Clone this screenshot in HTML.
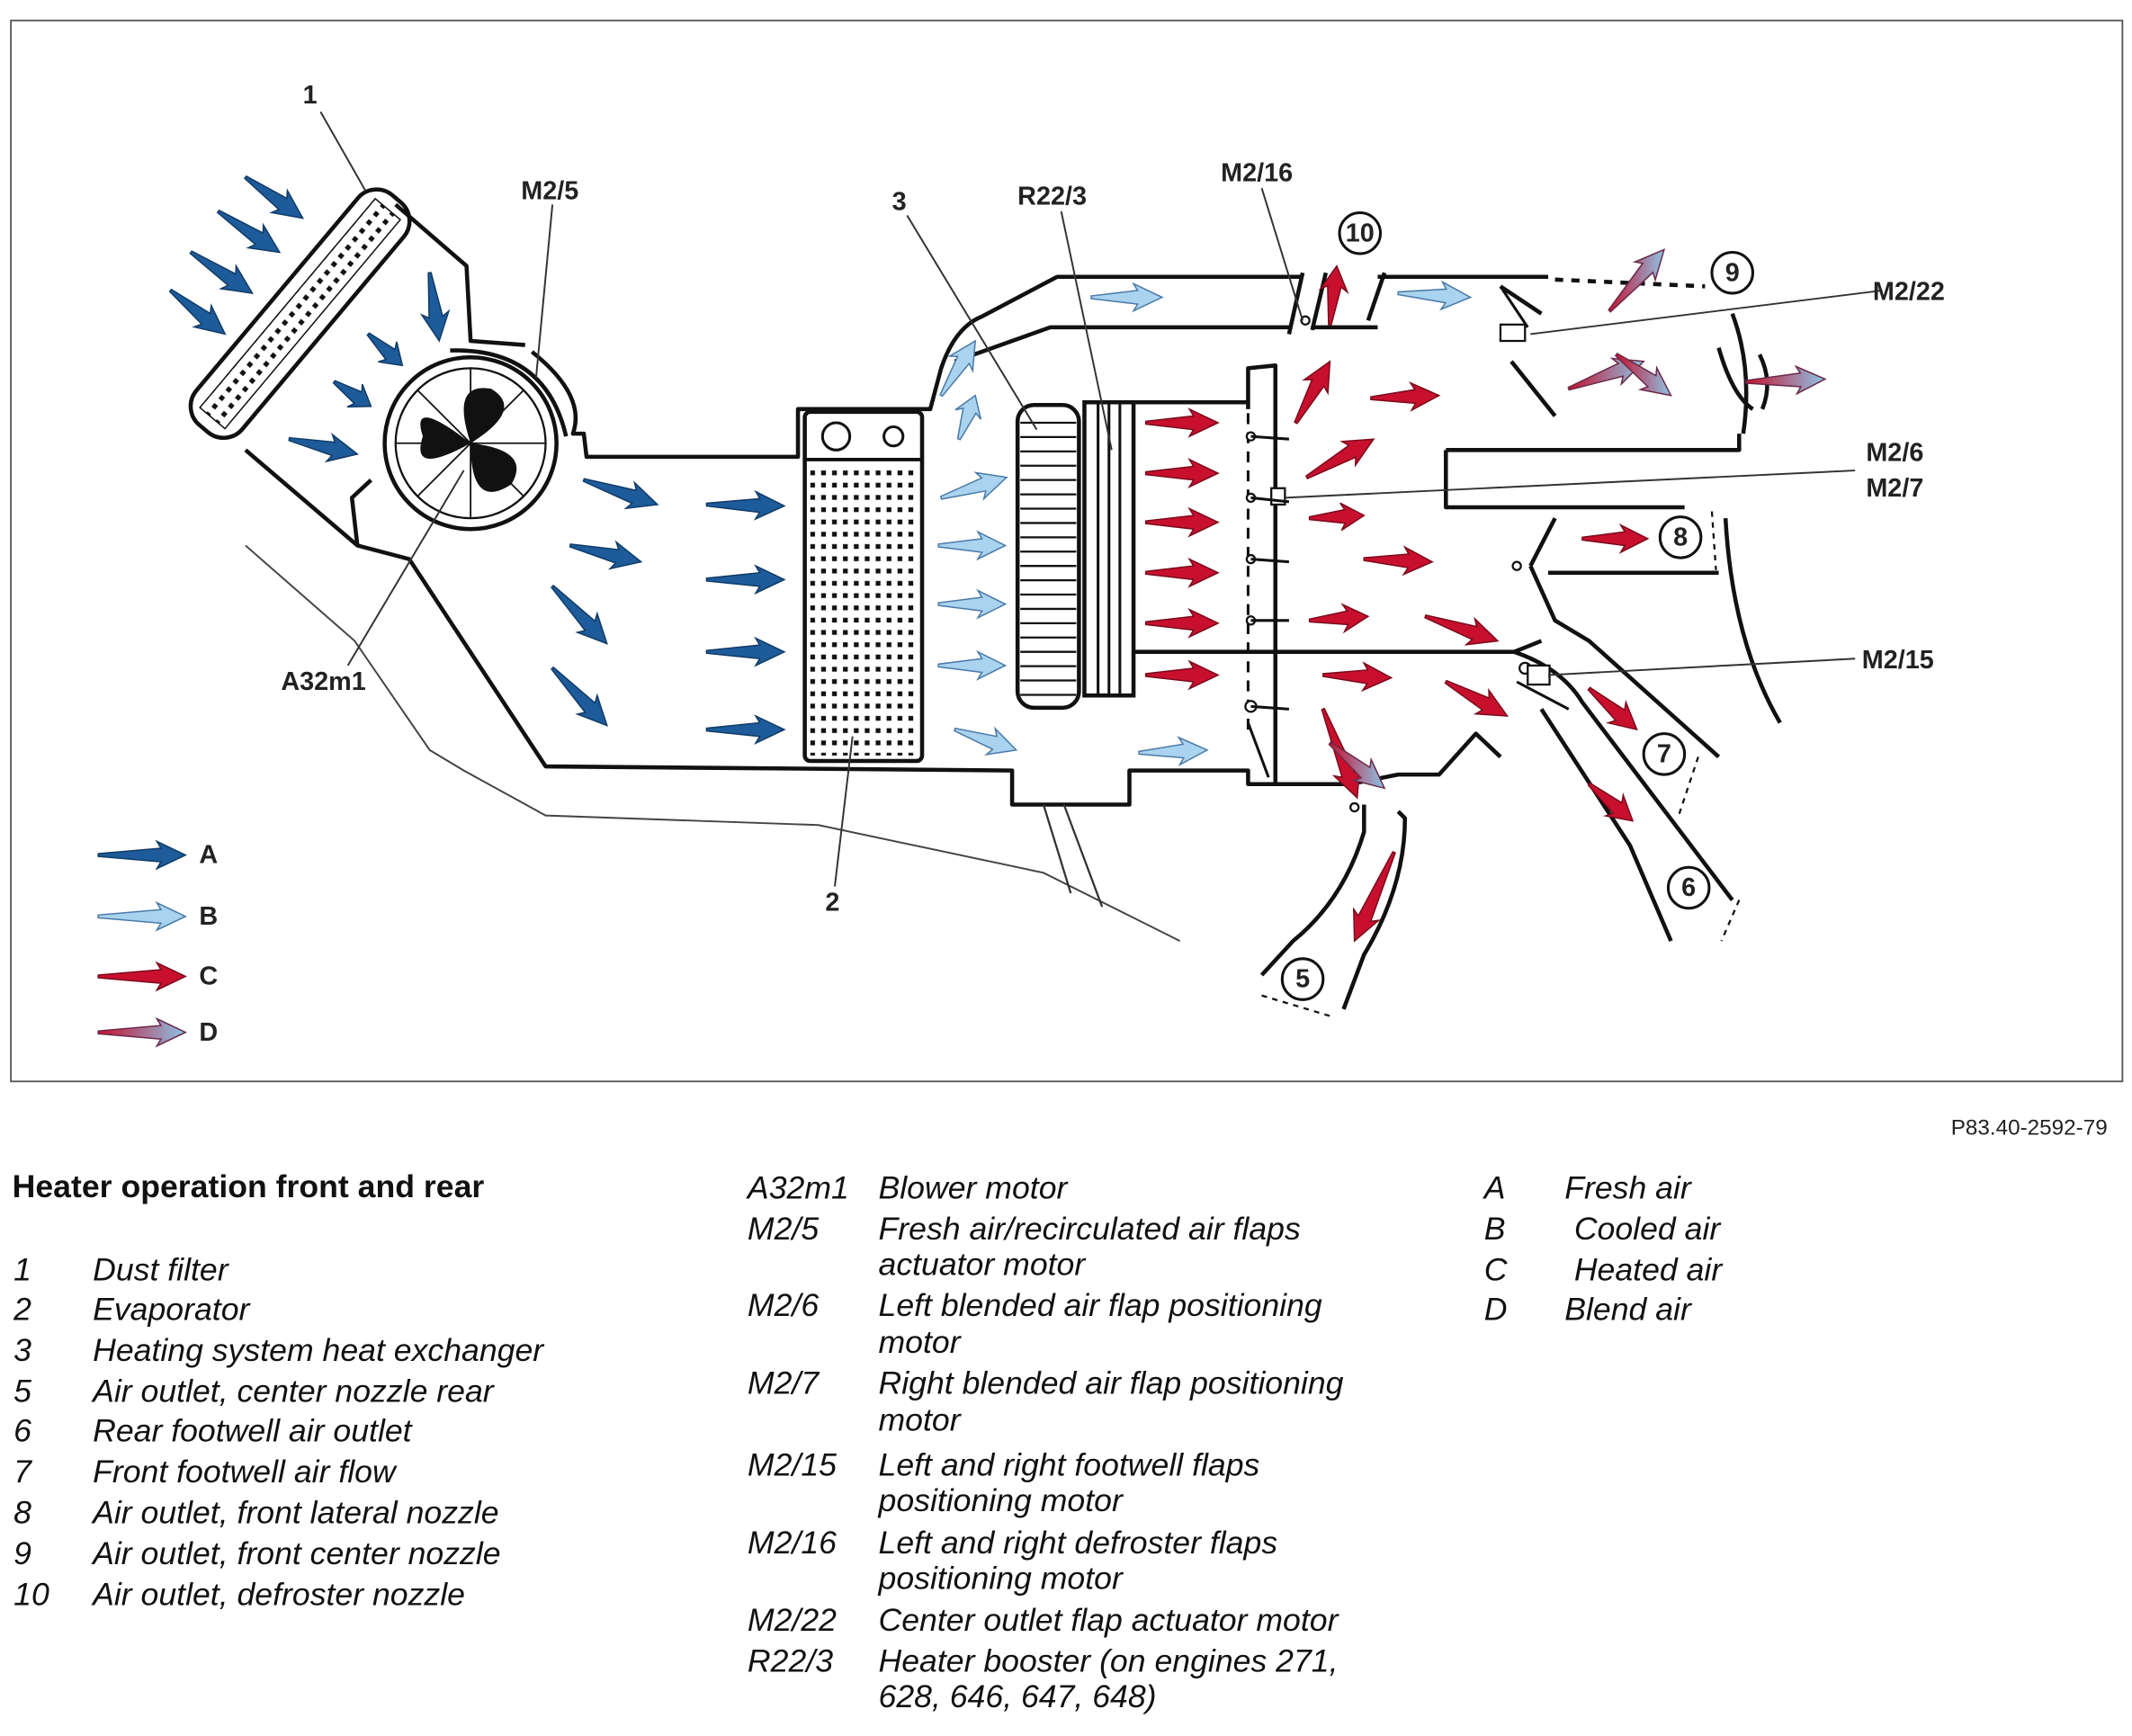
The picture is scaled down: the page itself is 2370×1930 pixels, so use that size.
<!DOCTYPE html>
<html><head><meta charset="utf-8"><style>
html,body{margin:0;padding:0;background:#fff}
svg{display:block}
.lb{font-family:"Liberation Sans",sans-serif;font-weight:bold;font-size:19px;fill:#222}
.lg{font-family:"Liberation Sans",sans-serif;font-style:italic;font-size:23.5px;fill:#111}
.ln{stroke:#333;stroke-width:1.3;fill:none}
.hs{stroke:#111;stroke-width:3;fill:none;stroke-linejoin:round}
</style></head><body>
<svg id="s" width="2370" height="1930" viewBox="0 0 1563 1273" preserveAspectRatio="none" xmlns="http://www.w3.org/2000/svg">
<defs>
<linearGradient id="gd" x1="0" y1="0" x2="1" y2="0"><stop offset="0" stop-color="#c8102e"/><stop offset="1" stop-color="#8cc4e6"/></linearGradient>
<pattern id="dots" width="8" height="9" patternUnits="userSpaceOnUse"><rect x="2" y="3" width="3.5" height="3.5" fill="#111"/></pattern>
</defs>
<rect x="8" y="15" width="1548" height="778" fill="#fff" stroke="#555" stroke-width="1.2"/>

<g transform="translate(220,230) rotate(-50)">
<rect x="-110" y="-22" width="220" height="44" rx="18" fill="#fff" stroke="#111" stroke-width="3"/>
<rect x="-100" y="-12" width="200" height="24" fill="url(#dots)" stroke="#111" stroke-width="1"/>
</g>
<path class="hs" d="M290,150 L342,195 L345,250 L385,253"/>
<path class="hs" d="M390,258 Q430,290 420,318 L428,318 L430,335 L585,335 L585,300 L682,300 L690,270 Q700,240 720,232 L775,203 L955,203"/>
<path class="hs" d="M700,265 L770,240 L945,240"/>
<path class="hs" d="M1010,203 L1135,203"/>
<path class="hs" d="M962,240 L1010,240"/>
<path class="hs" d="M180,330 L262,400 L300,410 L400,562 L742,565 L742,590 L828,590 L828,565 L915,565 L915,575 L990,575 L1025,568 L1055,568 L1082,538 L1100,555"/>
<path class="hs" d="M262,400 L258,365 L272,352"/>
<path class="hs" d="M915,300 L915,270 L935,268 L935,575"/>
<path class="hs" d="M830,295 L915,295"/>
<path class="hs" d="M830,478 L1110,478 Q1145,490 1160,515 L1270,660"/>
<path class="hs" d="M1110,478 L1130,470"/>
<path class="hs" d="M1060,330 L1275,330 L1275,318"/>
<path class="hs" d="M1060,330 L1060,372 L1235,372"/>
<path class="hs" d="M1135,420 L1260,420"/>
<path class="hs" d="M1122,415 L1140,380"/>
<path class="hs" d="M1122,415 L1140,455 L1165,470 L1260,555"/>
<path class="hs" d="M1130,520 L1195,620 L1225,690"/>
<path class="hs" d="M1265,380 Q1270,470 1305,530"/>
<path class="hs" d="M1270,230 Q1285,270 1278,318"/>
<path class="hs" d="M1000,590 L1000,610 Q985,660 948,690 L925,715"/>
<path class="hs" d="M1025,595 L1030,600 Q1030,650 1000,700 L985,740"/>
<path class="hs" d="M1100,210 L1130,230 M1108,265 L1140,305"/>
<path stroke="#111" stroke-width="3" stroke-dasharray="6,6" d="M1140,205 L1250,210"/>
<path stroke="#111" stroke-width="2" stroke-dasharray="8,6" fill="none" d="M915,275 L915,540"/>
<path stroke="#111" stroke-width="1.5" stroke-dasharray="4,4" fill="none" d="M1255,375 L1258,418 M1245,555 L1230,600 M1275,660 L1262,690 M925,730 L975,745"/>
<path class="hs" d="M945,245 L955,200 M962,242 L972,200 M1003,235 L1015,200"/>
<path class="hs" stroke-width="2" d="M1260,255 Q1270,290 1285,300 M1290,260 Q1300,280 1292,300"/>
<path stroke="#444" stroke-width="1.3" fill="none" d="M180,400 L260,470 L315,550 L340,565 L400,598 L600,605 L765,640 L865,690"/>
<path stroke="#333" stroke-width="1.5" fill="none" d="M765,590 L785,655 M780,590 L808,665"/>
<circle cx="345" cy="325" r="63" fill="#fff" stroke="#111" stroke-width="3"/>
<circle cx="345" cy="325" r="55" fill="#fff" stroke="#111" stroke-width="1.5"/>
<g stroke="#111" stroke-width="1.2">
<path d="M345,270 L345,380 M290,325 L400,325 M306,286 L384,364 M306,364 L384,286"/>
</g>
<path d="M345,325 Q300,290 310,320 Q300,350 345,325 Q330,280 360,285 Q385,300 345,325 Q390,330 375,355 Q345,375 345,325Z" fill="#111"/>
<path class="hs" stroke-width="2.5" d="M330,257 Q400,255 415,320"/>
<rect x="590" y="302" width="86" height="256" rx="4" fill="#fff" stroke="#111" stroke-width="3"/>
<line x1="590" y1="337" x2="676" y2="337" stroke="#111" stroke-width="2.5"/>
<circle cx="613" cy="320" r="10" fill="#fff" stroke="#111" stroke-width="2"/>
<circle cx="655" cy="320" r="7" fill="#fff" stroke="#111" stroke-width="2"/>
<rect x="594" y="340" width="78" height="214" fill="url(#dots)"/>
<rect x="746" y="297" width="45" height="222" rx="12" fill="#fff" stroke="#111" stroke-width="3"/>
<g id="hl" stroke="#111" stroke-width="1.5"></g>
<rect x="795" y="295" width="36" height="215" fill="#fff" stroke="#111" stroke-width="3"/>
<path stroke="#111" stroke-width="2" d="M805,295 L805,510 M813,295 L813,510 M821,295 L821,510"/>
<g stroke="#111" stroke-width="1.5" fill="#fff">
<circle cx="917" cy="320" r="3"/><circle cx="917" cy="365" r="3"/><circle cx="917" cy="410" r="3"/><circle cx="917" cy="455" r="3"/><circle cx="917" cy="518" r="4"/><circle cx="957" cy="235" r="3"/><circle cx="1118" cy="490" r="4"/><circle cx="1112" cy="415" r="3"/><circle cx="993" cy="592" r="3"/>
<rect x="932" y="358" width="10" height="12"/><rect x="1100" y="238" width="18" height="12"/><rect x="1120" y="488" width="16" height="14"/>
</g>
<path stroke="#111" stroke-width="2" d="M917,320 L945,322 M917,365 L945,368 M917,410 L945,412 M917,455 L945,455 M917,518 L945,520 M915,530 L930,570 M1112,500 L1150,520 M1120,240 L1100,210"/>
<g fill="#fff" stroke="#111" stroke-width="2">
<circle cx="997" cy="171" r="15"/><circle cx="1270" cy="200" r="15"/><circle cx="1232" cy="394" r="15"/><circle cx="1220" cy="553" r="15"/><circle cx="1238" cy="651" r="15"/><circle cx="955" cy="718" r="15"/>
</g>
<g class="lb" text-anchor="middle" font-size="17">
<text x="997" y="177">10</text><text x="1270" y="206">9</text><text x="1232" y="400">8</text><text x="1220" y="559">7</text><text x="1238" y="657">6</text><text x="955" y="724">5</text>
</g>
<path class="ln" d="M235,82 L268,140 M405,150 L393,277 M665,158 L760,315 M778,155 L815,330 M925,138 L955,235 M1380,213 L1122,245 M1360,345 L942,365 M1360,483 L1135,495 M255,488 L340,345 M612,650 L625,540"/>
<g class="lb">
<text x="222" y="76">1</text><text x="382" y="146">M2/5</text><text x="654" y="154">3</text><text x="746" y="150">R22/3</text><text x="895" y="133">M2/16</text><text x="1373" y="220">M2/22</text><text x="1368" y="338">M2/6</text><text x="1368" y="364">M2/7</text><text x="1365" y="490">M2/15</text><text x="206" y="506">A32m1</text><text x="605" y="668">2</text>
<text x="146" y="633">A</text><text x="146" y="678">B</text><text x="146" y="722">C</text><text x="146" y="763">D</text>
</g>
<g id="arr"></g>
<text x="1545" y="832" text-anchor="end" font-family="Liberation Sans,sans-serif" font-size="16" fill="#222">P83.40-2592-79</text>
<text x="9" y="878" font-family="Liberation Sans,sans-serif" font-weight="bold" font-size="23.5" fill="#111">Heater operation front and rear</text>
<g class="lg">
<text x="10" y="939">1</text><text x="68" y="939">Dust filter</text>
<text x="10" y="968">2</text><text x="68" y="968">Evaporator</text>
<text x="10" y="998">3</text><text x="68" y="998">Heating system heat exchanger</text>
<text x="10" y="1028">5</text><text x="68" y="1028">Air outlet, center nozzle rear</text>
<text x="10" y="1057">6</text><text x="68" y="1057">Rear footwell air outlet</text>
<text x="10" y="1087">7</text><text x="68" y="1087">Front footwell air flow</text>
<text x="10" y="1117">8</text><text x="68" y="1117">Air outlet, front lateral nozzle</text>
<text x="10" y="1147">9</text><text x="68" y="1147">Air outlet, front center nozzle</text>
<text x="10" y="1177">10</text><text x="68" y="1177">Air outlet, defroster nozzle</text>
<text x="548" y="879">A32m1</text><text x="644" y="879">Blower motor</text>
<text x="548" y="909">M2/5</text><text x="644" y="909">Fresh air/recirculated air flaps</text><text x="644" y="935">actuator motor</text>
<text x="548" y="965">M2/6</text><text x="644" y="965">Left blended air flap positioning</text><text x="644" y="992">motor</text>
<text x="548" y="1022">M2/7</text><text x="644" y="1022">Right blended air flap positioning</text><text x="644" y="1049">motor</text>
<text x="548" y="1082">M2/15</text><text x="644" y="1082">Left and right footwell flaps</text><text x="644" y="1108">positioning motor</text>
<text x="548" y="1139">M2/16</text><text x="644" y="1139">Left and right defroster flaps</text><text x="644" y="1165">positioning motor</text>
<text x="548" y="1196">M2/22</text><text x="644" y="1196">Center outlet flap actuator motor</text>
<text x="548" y="1226">R22/3</text><text x="644" y="1226">Heater booster (on engines 271,</text><text x="644" y="1252">628, 646, 647, 648)</text>
<text x="1088" y="879">A</text><text x="1147" y="879">Fresh air</text>
<text x="1088" y="909">B</text><text x="1154" y="909">Cooled air</text>
<text x="1088" y="939">C</text><text x="1154" y="939">Heated air</text>
<text x="1088" y="968">D</text><text x="1147" y="968">Blend air</text>
</g>
</svg>
<script>
var NS="http://www.w3.org/2000/svg";
var hl=document.getElementById("hl");
for(var y=310;y<515;y+=10.5){var l=document.createElementNS(NS,"line");l.setAttribute("x1",748);l.setAttribute("x2",789);l.setAttribute("y1",y);l.setAttribute("y2",y);hl.appendChild(l);}
var A=[[125,213,165,245],[140,185,185,215],[160,155,205,185],[180,130,222,160],[315,200,322,250],[270,245,295,268],[245,280,272,298],[212,322,262,333],[428,352,482,370],[418,400,470,412],[518,370,575,371],[518,425,575,425],[518,478,575,478],[518,535,575,535],[405,430,445,472],[405,490,445,532],[72,627,136,627]];
var B=[[800,218,852,218],[1025,215,1078,218],[690,290,715,250],[703,322,715,290],[690,365,738,350],[688,400,737,400],[688,443,737,443],[688,488,737,488],[700,535,745,550],[835,552,885,550],[72,672,136,672]];
var C=[[840,310,893,310],[840,347,893,347],[840,383,893,383],[840,420,893,420],[840,457,893,457],[840,495,893,495],[975,238,980,195],[950,310,975,265],[958,350,1007,322],[960,380,1000,378],[1005,292,1055,290],[1000,410,1050,412],[960,455,1003,452],[970,495,1020,497],[1045,452,1098,470],[1060,500,1105,525],[1160,395,1208,395],[1165,505,1200,535],[1165,575,1197,602],[970,520,995,585],[1022,625,993,690],[72,716,136,716]];
var D=[[1180,228,1220,183],[1150,285,1205,265],[1185,260,1225,290],[1280,280,1338,278],[975,545,1015,578],[72,757,136,757]];
var g=document.getElementById("arr");
function arrow(a,fill,stroke){var x1=a[0],y1=a[1],x2=a[2],y2=a[3];var dx=x2-x1,dy=y2-y1,L=Math.hypot(dx,dy);var ux=dx/L,uy=dy/L,nx=-uy,ny=ux;var h=Math.min(18,L*0.35);
function p(t,w){return (x1+ux*t+nx*w).toFixed(1)+","+(y1+uy*t+ny*w).toFixed(1);}
var pts=[p(0,1),p(L-h,5),p(L-h-3,10),p(L,0),p(L-h-3,-10),p(L-h,-5),p(0,-1)];
var e=document.createElementNS(NS,"polygon");e.setAttribute("points",pts.join(" "));e.setAttribute("fill",fill);e.setAttribute("stroke",stroke);e.setAttribute("stroke-width","1");g.appendChild(e);}
A.forEach(function(a){arrow(a,"#1d5b9a","#123b66")});
B.forEach(function(a){arrow(a,"#a9d3ee","#4a7aa8")});
C.forEach(function(a){arrow(a,"#c8102e","#7a0a1c")});
D.forEach(function(a){arrow(a,"url(#gd)","#6a2a4a")});
</script>
</body></html>
